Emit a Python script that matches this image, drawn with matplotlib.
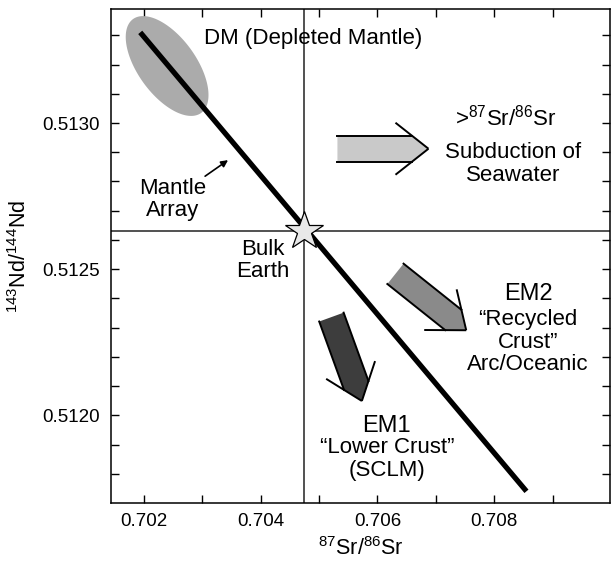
import numpy as np
import matplotlib
matplotlib.use("Agg")
import matplotlib.pyplot as plt
from matplotlib.patches import Polygon

plt.rcParams['font.family'] = ['Liberation Sans', 'DejaVu Sans']
plt.rcParams['mathtext.fontset'] = 'custom'
plt.rcParams['mathtext.rm'] = 'Liberation Sans'
plt.rcParams['mathtext.it'] = 'Liberation Sans:italic'

# axis ranges / ticks
x_range = (0.70144, 0.70998)
y_range = (0.51170, 0.51339)
x_ticks = [0.702, 0.703, 0.704, 0.705, 0.706, 0.707, 0.708, 0.709]
x_labels = ["0.702", "", "0.704", "", "0.706", "", "0.708", ""]
y_ticks = np.round(np.arange(0.5118, 0.51335, 0.0001), 4)
y_labels = [f"{v:.4f}" if round(v * 10000) % 5 == 0 else "" for v in y_ticks]

# bulk earth reference
bulk_earth = (0.70475, 0.51263)

# mantle array end points (Sr, Nd)
mantle_sr = [0.70194, 0.70855]
mantle_nd = [0.51331, 0.51174]

# depleted mantle field centre
dm_center = (0.70240, 0.513195)

# enrichment arrows: (tail Sr, tail Nd) -> (tip Sr, tip Nd), fill colour
arrow_tails = [(0.705315, 0.512912), (0.706308, 0.512484), (0.705212, 0.512336)]
arrow_tips = [(0.706873, 0.512912), (0.707519, 0.512291), (0.705733, 0.512049)]
arrow_colors = ['#c9c9c9', '#8a8a8a', '#3d3d3d']

fig = plt.figure(figsize=(6.11, 5.66), dpi=100)
ax = fig.add_axes([0.1817, 0.1113, 0.8167, 0.8728])
ax.set_xlim(*x_range)
ax.set_ylim(*y_range)

ax.set_xticks(x_ticks)
ax.set_xticklabels(x_labels)
ax.set_yticks(y_ticks)
ax.set_yticklabels(y_labels)
ax.tick_params(direction='in', length=5.5, width=1.0, labelsize=13.5,
               top=True, right=True, pad=7)
ax.tick_params(axis='y', pad=8)
for s in ax.spines.values():
    s.set_linewidth(1.1)

ax.set_xlabel(r"$^{87}$Sr/$^{86}$Sr", fontsize=15.5, labelpad=5)
ax.set_ylabel(r"$^{143}$Nd/$^{144}$Nd", fontsize=15.5, labelpad=8)

# crosshair through bulk earth
ax.axvline(bulk_earth[0], color='#222222', lw=1.1, zorder=1)
ax.axhline(bulk_earth[1], color='#222222', lw=1.1, zorder=1)

to_px = ax.transData.transform
to_data = ax.transData.inverted().transform

# DM ellipse, drawn in pixel space so it keeps its tilt
c = to_px(dm_center)
ang = np.deg2rad(-54)
t = np.linspace(0, 2 * np.pi, 200)
a, b = 58, 29
ex = c[0] + a * np.cos(t) * np.cos(ang) - b * np.sin(t) * np.sin(ang)
ey = c[1] + a * np.cos(t) * np.sin(ang) + b * np.sin(t) * np.cos(ang)
ell = to_data(np.column_stack([ex, ey]))
ax.add_patch(Polygon(ell, closed=True, facecolor='#ababab', edgecolor='none', zorder=2))

# mantle array
ax.plot(mantle_sr, mantle_nd, color='black', lw=3.8, solid_capstyle='butt', zorder=3)

# bulk earth star
ax.plot(*bulk_earth, marker='*', markersize=29, markerfacecolor='#e8e8e8',
        markeredgecolor='black', markeredgewidth=0.9, zorder=5)


def fat_arrow(tail, tip, color, half=13, back=33, side=26):
    p0 = to_px(tail)
    p1 = to_px(tip)
    u = (p1 - p0) / np.linalg.norm(p1 - p0)
    n = np.array([-u[1], u[0]])
    join = back * half / side
    poly = [p0 + n * half, p1 - u * join + n * half, p1,
            p1 - u * join - n * half, p0 - n * half]
    ax.add_patch(Polygon(to_data(np.array(poly)), closed=True, facecolor=color,
                         edgecolor='none', zorder=4))
    for sgn in (1, -1):
        side_line = to_data(np.array([p0 + sgn * n * half, p1 - u * join + sgn * n * half]))
        ax.plot(side_line[:, 0], side_line[:, 1], color='black', lw=1.4, zorder=4)
        arm = to_data(np.array([p1 - u * back + sgn * n * side, p1]))
        ax.plot(arm[:, 0], arm[:, 1], color='black', lw=1.4, zorder=4,
                solid_capstyle='butt')


for tl, tp, col in zip(arrow_tails, arrow_tips, arrow_colors):
    fat_arrow(tl, tp, col)

# labels
txt = dict(ha='center', va='center', fontsize=16, linespacing=1.1)
ax.text(0.70490, 0.513288, "DM (Depleted Mantle)", **txt)
ax.text(0.70819, 0.51302, r">$^{87}$Sr/$^{86}$Sr", **txt)
ax.text(0.70832, 0.512859, "Subduction of\nSeawater", **txt)
ax.text(0.70249, 0.512738, "Mantle\nArray", **txt)
ax.text(0.70403, 0.512529, "Bulk\nEarth", **txt)
ax.text(0.70858, 0.512414, "EM2", ha='center', va='center', fontsize=17)
ax.text(0.70858, 0.51225, "\u201cRecycled\nCrust\u201d\nArc/Oceanic", **txt)
ax.text(0.70615, 0.511963, "EM1", ha='center', va='center', fontsize=17)
ax.text(0.70617, 0.51185, "\u201cLower Crust\u201d\n(SCLM)", **txt)

ax.annotate("", xy=(0.703443, 0.512873), xytext=(0.70305, 0.512818),
            arrowprops=dict(arrowstyle='-|>', color='black', lw=1.2,
                            mutation_scale=10, shrinkA=0, shrinkB=0))

fig.savefig("out.png", dpi=100)
